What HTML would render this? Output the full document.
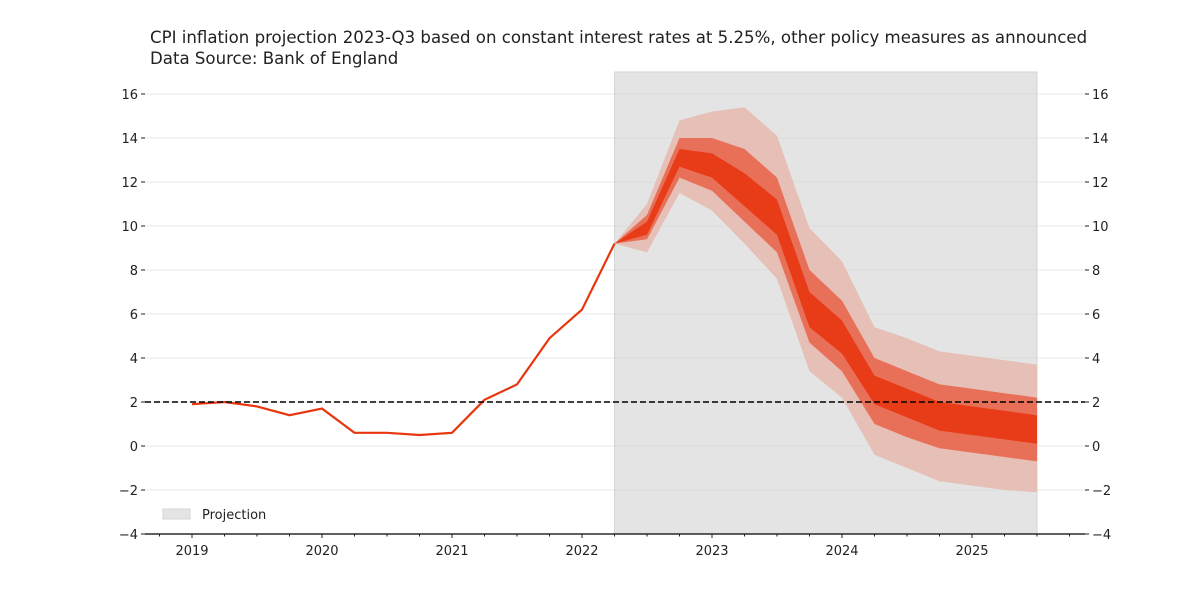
<!DOCTYPE html>
<html><head><meta charset="utf-8"><style>
body{margin:0;background:#fff}
svg text{font-family:"DejaVu Sans","Liberation Sans",sans-serif;fill:#222}
</style></head><body>
<svg id="c" width="1200" height="600"></svg>
<script>
const histX=[2019,2019.25,2019.5,2019.75,2020,2020.25,2020.5,2020.75,2021,2021.25,2021.5,2021.75,2022,2022.25];
const histY=[1.9,2.0,1.8,1.4,1.7,0.6,0.6,0.5,0.6,2.1,2.8,4.9,6.2,9.2];
const projX=[2022.25,2022.5,2022.75,2023,2023.25,2023.5,2023.75,2024,2024.25,2024.5,2024.75,2025,2025.25,2025.5];
const outerUp=[9.2,11.0,14.8,15.2,15.4,14.1,9.9,8.4,5.4,4.9,4.3,4.1,3.9,3.7];
const midUp=[9.2,10.5,14.0,14.0,13.5,12.2,8.0,6.6,4.0,3.4,2.8,2.6,2.4,2.2];
const innerUp=[9.2,10.2,13.5,13.3,12.4,11.2,7.0,5.7,3.2,2.6,2.0,1.8,1.6,1.4];
const innerLo=[9.2,9.6,12.7,12.2,10.9,9.6,5.4,4.2,1.9,1.3,0.7,0.5,0.3,0.1];
const midLo=[9.2,9.4,12.2,11.6,10.2,8.8,4.7,3.4,1.0,0.4,-0.1,-0.3,-0.5,-0.7];
const outerLo=[9.2,8.8,11.5,10.7,9.2,7.6,3.4,2.2,-0.4,-1.0,-1.6,-1.8,-2.0,-2.1];
const yTicks=[-4,-2,0,2,4,6,8,10,12,14,16];
const xTicks=[2019,2020,2021,2022,2023,2024,2025];
const target=2;
const X=v=>192+(v-2019)*130, Y=v=>446-v*22;
const L=145,R=1085,T=72,B=534;
const s=document.getElementById('c');const NS='http://www.w3.org/2000/svg';
function el(t,a,txt){const e=document.createElementNS(NS,t);for(const k in a)e.setAttribute(k,a[k]);if(txt!==undefined)e.textContent=txt;s.appendChild(e);return e;}
let e;
e=el('rect',{x:X(2022.25),y:T,width:X(2025.5)-X(2022.25),height:B-T,fill:'#e4e4e4',stroke:'#d6d6d6'});


yTicks.forEach(v=>{
 e=el('line',{x1:L,x2:R,y1:Y(v),y2:Y(v),stroke:'#d0d0d0','stroke-opacity':0.6,'stroke-width':0.8});
 
 
 el('line',{x1:L-4,x2:L,y1:Y(v),y2:Y(v),stroke:'#222'});
 el('line',{x1:R,x2:R+4,y1:Y(v),y2:Y(v),stroke:'#222'});
 const lab=(v<0?'\u2212'+(-v):''+v);
 e=el('text',{x:L-7,y:Y(v)+5,'text-anchor':'end','font-size':13},lab);
 
 
 e=el('text',{x:R+7,y:Y(v)+5,'font-size':13},lab);
 
 
});
function band(up,lo,col,name){
 let d='M'+projX.map((x,i)=>X(x)+','+Y(up[i])).join('L');
 d+='L'+projX.map((x,i)=>[x,i]).reverse().map(([x,i])=>X(x)+','+Y(lo[i])).join('L')+'Z';
 e=el('path',{d:d,fill:col});
 
 
}
band(outerUp,outerLo,'#e6bfb6','fan-outer-band');
band(midUp,midLo,'#e87058','fan-middle-band');
band(innerUp,innerLo,'#e83c18','fan-inner-band');
e=el('polyline',{points:histX.map((x,i)=>X(x)+','+Y(histY[i])).join(' '),fill:'none',stroke:'#e8360e','stroke-width':2.2});


e=el('line',{x1:L,x2:R,y1:Y(target),y2:Y(target),stroke:'#000','stroke-width':1.6,'stroke-dasharray':'6,3'});


e=el('line',{x1:L,x2:R,y1:B,y2:B,stroke:'#000','stroke-width':1.2});


for(let q=2018.75;q<=2025.76;q+=0.25){el('line',{x1:X(q),x2:X(q),y1:B,y2:B+(Number.isInteger(q)?4:2.5),stroke:'#222'});}
xTicks.forEach(v=>{
 e=el('text',{x:X(v),y:B+21,'text-anchor':'middle','font-size':13},''+v);
 
 
});
e=el('rect',{x:163,y:509,width:27,height:10,fill:'#e4e4e4',stroke:'#d6d6d6'});


e=el('text',{x:202,y:519,'font-size':13},'Projection');


e=el('text',{x:150,y:43,'font-size':16.6},'CPI inflation projection 2023-Q3 based on constant interest rates at 5.25%, other policy measures as announced');


e=el('text',{x:150,y:64,'font-size':16.6},'Data Source: Bank of England');


</script>
</body></html>
